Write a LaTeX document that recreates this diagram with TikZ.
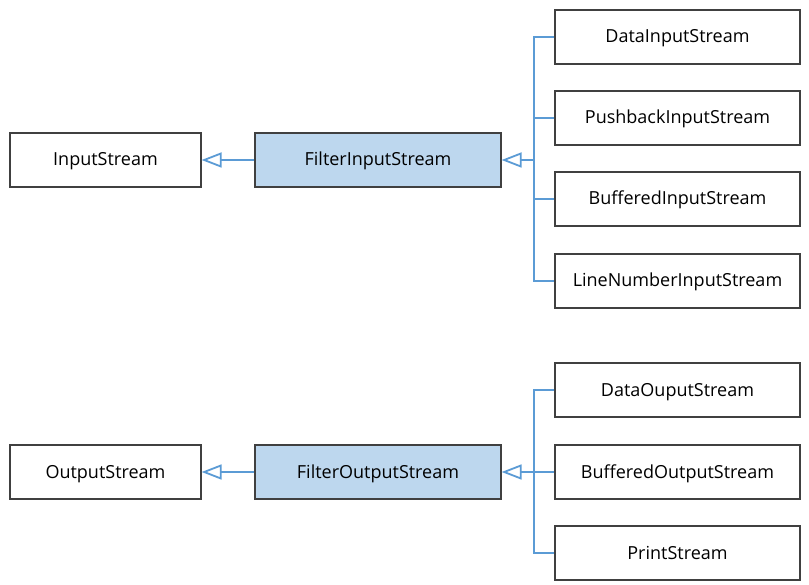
\documentclass[tikz,border=0pt]{standalone}
\usepackage{fontspec}
\setmainfont{Open Sans}
\usetikzlibrary{arrows.meta}
\definecolor{boxline}{HTML}{404040}
\definecolor{filterc}{HTML}{BDD7EE}
\definecolor{linkc}{HTML}{5B9BD5}

\begin{document}
\begin{tikzpicture}[x=1pt, y=-1pt,
  box/.style={draw=boxline, line width=1.2pt, fill=white, minimum height=54pt,
    inner sep=0pt, text height=14pt, text depth=2pt, font=\fontsize{18}{20}\selectfont},
  basebox/.style={box, minimum width=191pt},
  filterbox/.style={box, fill=filterc, minimum width=246pt},
  subbox/.style={box, minimum width=245pt},
  link/.style={draw=linkc, line width=1.8pt},
  inherit/.style={link, -{Triangle[open, length=20pt, width=15pt, line width=1.8pt, fill=white]}}]
  \useasboundingbox (0,0) rectangle (809,585);

  % input side
  \node[basebox] (instream) at (105.5,160) {InputStream};
  \node[filterbox] (filterin) at (378,160) {FilterInputStream};
  \node[subbox] (datain) at (677.5,37) {DataInputStream};
  \node[subbox] (pushin) at (677.5,118) {PushbackInputStream};
  \node[subbox] (bufin) at (677.5,199) {BufferedInputStream};
  \node[subbox] (linein) at (677.5,281) {LineNumberInputStream};
  \coordinate (busin) at (534,160);

  \draw[link] (datain.west) -| (busin) |- (linein.west);
  \draw[link] (pushin.west) -- (pushin.west -| busin);
  \draw[link] (bufin.west) -- (bufin.west -| busin);
  \draw[inherit] (busin) -- (filterin.east);
  \draw[inherit] (filterin.west) -- (instream.east);

  % output side
  \node[basebox] (outstream) at (105.5,472) {OutputStream};
  \node[filterbox] (filterout) at (378,472) {FilterOutputStream};
  \node[subbox] (dataout) at (677.5,390) {DataOuputStream};
  \node[subbox] (bufout) at (677.5,472) {BufferedOutputStream};
  \node[subbox] (printout) at (677.5,553) {PrintStream};
  \coordinate (busout) at (534,472);

  \draw[link] (dataout.west) -| (busout) |- (printout.west);
  \draw[link] (bufout.west) -- (busout);
  \draw[inherit] (busout) -- (filterout.east);
  \draw[inherit] (filterout.west) -- (outstream.east);
\end{tikzpicture}
\end{document}
